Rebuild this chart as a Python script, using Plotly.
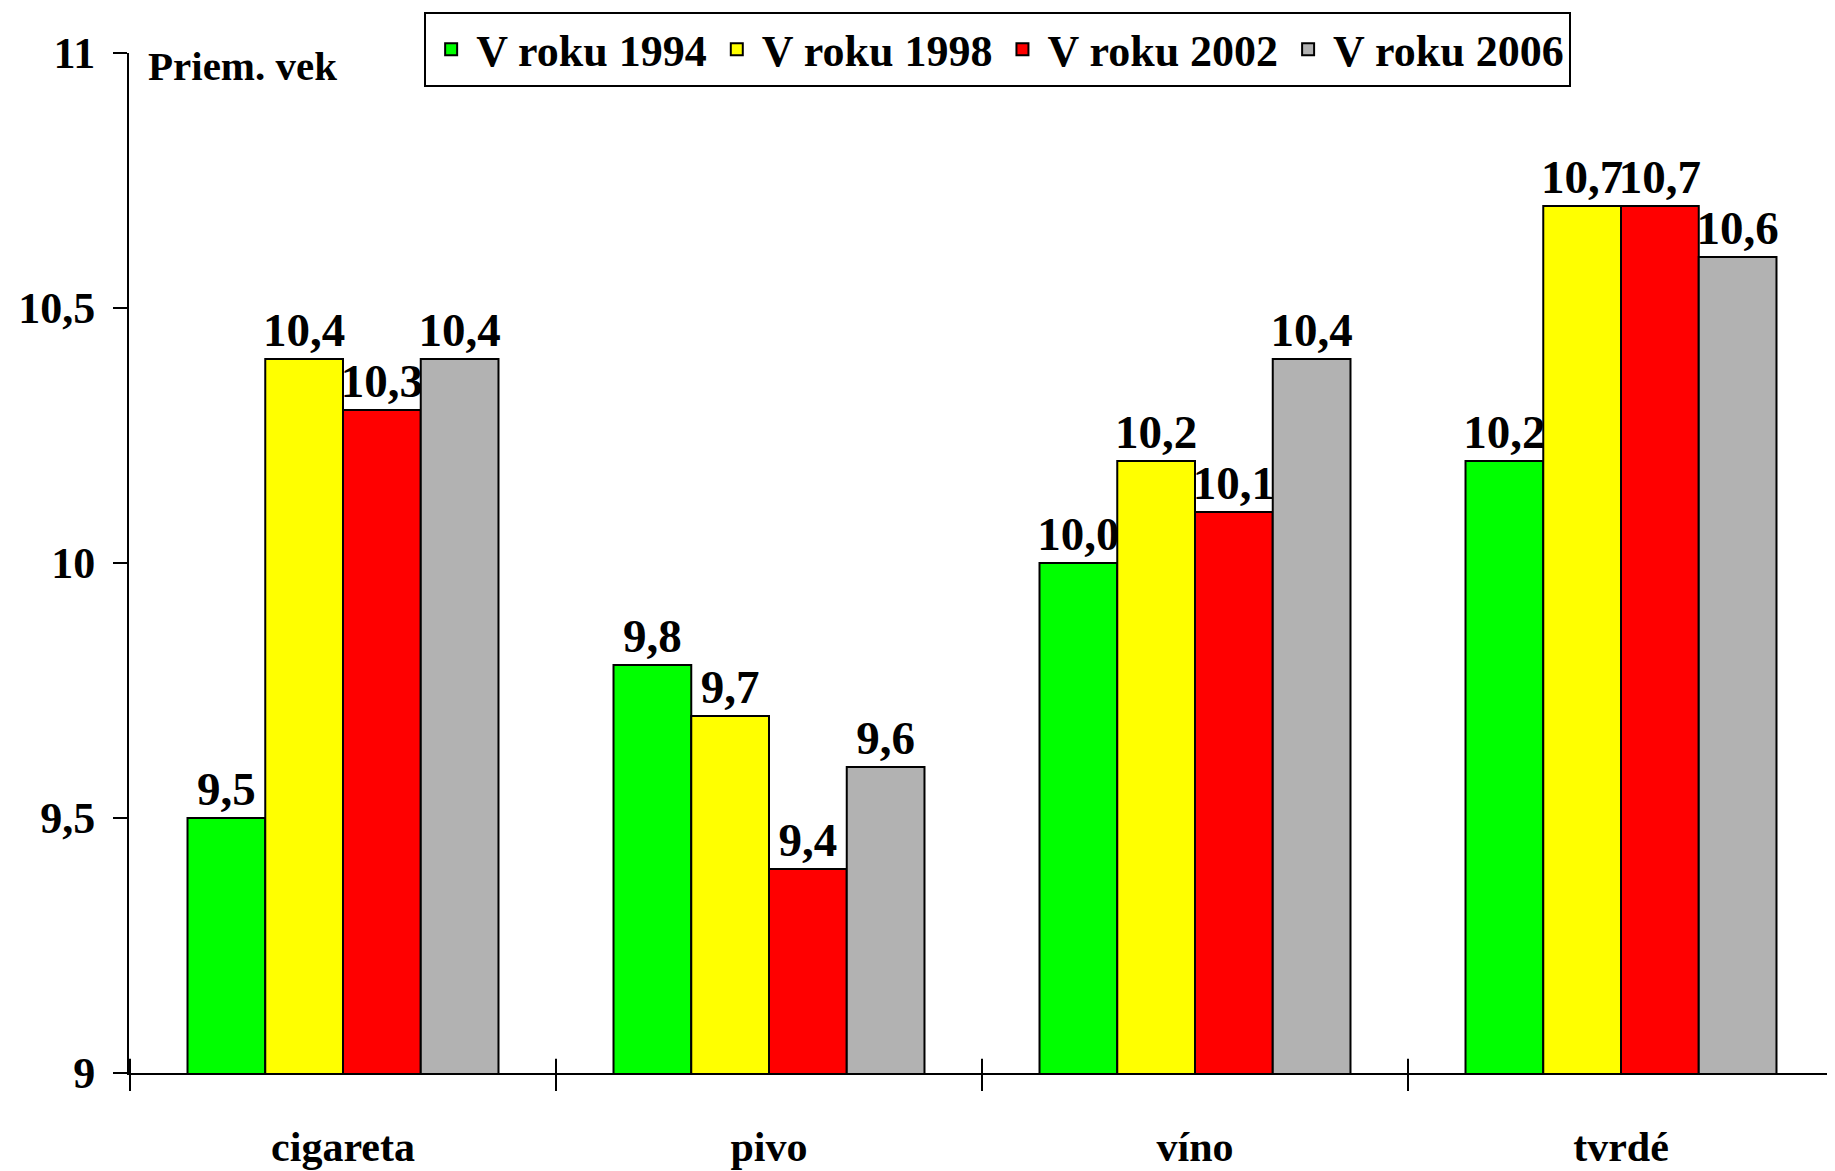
import plotly.graph_objects as go

categories = ["cigareta", "pivo", "víno", "tvrdé"]
series_names = ["V roku 1994", "V roku 1998", "V roku 2002", "V roku 2006"]
values_1994 = [9.5, 9.8, 10.0, 10.2]
values_1998 = [10.4, 9.7, 10.2, 10.7]
values_2002 = [10.3, 9.4, 10.1, 10.7]
values_2006 = [10.4, 9.6, 10.4, 10.6]
colors = ["#00FF00", "#FFFF00", "#FF0000", "#B2B2B2"]

FONT = "Liberation Serif, Times New Roman, serif"

fig = go.Figure()
for name, vals, col in zip(series_names,
                           [values_1994, values_1998, values_2002, values_2006],
                           colors):
    fig.add_trace(go.Bar(
        x=categories, y=vals, name=name,
        marker=dict(color=col, line=dict(color="black", width=2)),
        texttemplate="%{y:.1f}", textposition="outside",
        constraintext="none", cliponaxis=False,
        textfont=dict(family=FONT, size=47, color="black", weight="bold"),
    ))

# inner half of the crossing category ticks
for i in range(len(categories) + 1):
    fig.add_shape(type="line", xref="x", yref="paper",
                  x0=i - 0.5, x1=i - 0.5, y0=0, y1=0.014,
                  line=dict(color="black", width=2))

fig.add_annotation(text="Priem. vek", xref="paper", yref="paper",
                   x=0.01, y=1.0, xanchor="left", yanchor="top", showarrow=False,
                   yshift=12,
                   font=dict(family=FONT, size=41, color="black", weight="bold"))

# page body adds an 8px offset, so the figure is 8px smaller
fig.update_layout(
    width=1827, height=1163,
    margin=dict(l=121, r=0, t=45, b=98, autoexpand=False),
    plot_bgcolor="white", paper_bgcolor="white",
    barmode="group", bargap=0.27, bargroupgap=0,
    separators=", ",
    font=dict(family=FONT, size=44, color="black", weight="bold"),
    showlegend=True,
    legend=dict(orientation="h", x=0.173, y=1.04, xanchor="left", yanchor="top",
                bordercolor="black", borderwidth=2, bgcolor="white",
                itemwidth=40,
                font=dict(family=FONT, size=44, color="black", weight="bold"),
                traceorder="normal"),
    xaxis=dict(showline=True, linecolor="black", linewidth=2,
               ticks="outside", ticklen=16, tickwidth=2, tickcolor="black",
               tickson="boundaries", showgrid=False, ticklabelstandoff=36,
               automargin=False,
               tickfont=dict(family=FONT, size=42, weight="bold")),
    yaxis=dict(range=[9, 11], dtick=0.5, showline=True, linecolor="black",
               linewidth=2, ticks="outside", ticklen=14, tickwidth=2,
               tickcolor="black", showgrid=False, zeroline=False,
               ticklabelstandoff=9, automargin=False,
               tickfont=dict(family=FONT, size=44, weight="bold")),
)

fig.write_html("out.html")
